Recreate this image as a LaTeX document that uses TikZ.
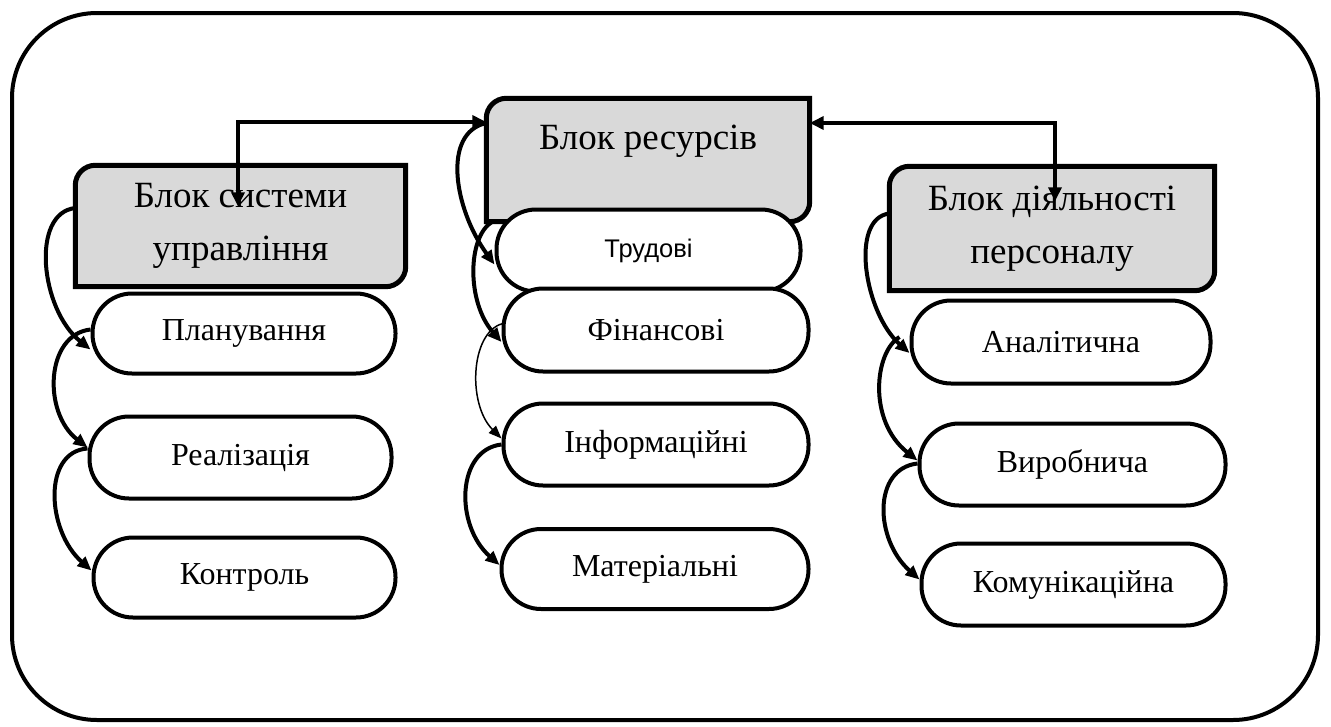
\documentclass[tikz,border=0pt]{standalone}
\usepackage{fontspec}
\setmainfont{Liberation Serif}
\newfontfamily\arialfont{Liberation Sans}
\usetikzlibrary{calc,arrows.meta,backgrounds}
\begin{document}
\begin{tikzpicture}[x=1pt,y=-1pt,
  frame/.style={draw, line width=4pt, rounded corners=85pt, minimum width=1306pt, minimum height=707pt, inner sep=0pt},
  blockbox/.style={inner sep=0pt, align=center, font=\fontsize{37}{53}\selectfont},
  blockline/.style={draw=black, fill=gray!30, line width=5pt},
  blocktext/.style={align=center, font=\fontsize{37}{53}\selectfont},
  pill/.style={draw, rectangle, rounded corners=39.5pt, line width=4pt, fill=white, inner sep=0pt, font=\fontsize{32}{38}\selectfont},
  link/.style={line width=4pt, {Triangle[length=14pt,width=13pt]}-{Triangle[length=14pt,width=13pt]}},
  curve/.style={line width=4pt, -{Triangle[length=14pt,width=12pt]}},
  thincurve/.style={line width=1.5pt, -{Triangle[length=13pt,width=10pt]}}
]
\useasboundingbox (0,0) rectangle (1331,726);

\node[frame] (frame) at (665,366.5) {};

% grey blocks
\node[blockbox, minimum width=330pt, minimum height=121pt] (sys) at (240.5,226) {Блок системи\\управління};
\node[blockbox, minimum width=323pt, minimum height=123pt] (res) at (648,160) {};
\node[blocktext] (restitle) at ($(res.north)+(0,43)$) {Блок ресурсів};
\node[blockbox, minimum width=325pt, minimum height=124pt] (act) at (1052,228.5) {Блок діяльності\\персоналу};

\begin{scope}[on background layer]
\foreach \b in {sys,res,act}{
  \draw[blockline] (\b.north east) -- ($(\b.south east)+(0,-20)$) arc[start angle=0,end angle=90,radius=20]
    -- (\b.south west) -- ($(\b.north west)+(0,20)$) arc[start angle=180,end angle=270,radius=20] -- cycle;
}
\end{scope}

% pills
\node[pill, minimum width=303pt, minimum height=80pt] (plan) at (244,333.5) {Планування};
\node[pill, minimum width=302pt, minimum height=82pt] (real) at (240.5,457.5) {Реалізація};
\node[pill, minimum width=302pt, minimum height=80pt] (kontr) at (244.5,577.5) {Контроль};
\node[pill, minimum width=304pt, minimum height=82pt, font=\arialfont\fontsize{25.5}{30}\selectfont] (trud) at (648.5,250.5) {Трудові};
\node[pill, minimum width=305pt, minimum height=83pt] (fin) at (656,330) {Фінансові};
\node[pill, minimum width=305pt, minimum height=82pt] (inf) at (656,444.5) {Інформаційні};
\node[pill, minimum width=307pt, minimum height=80pt] (mat) at (655,569) {Матеріальні};
\node[pill, minimum width=299pt, minimum height=83pt] (anal) at (1061,342) {Аналітична};
\node[pill, minimum width=306pt, minimum height=82pt] (vyr) at (1072.5,464.5) {Виробнича};
\node[pill, minimum width=304pt, minimum height=82pt] (kom) at (1073.5,584.5) {Комунікаційна};

% curved connectors
\draw[curve] ($(sys.west)+(0,-18)$) .. controls +(-45,5) and +(-50,-40) .. ($(plan.west)+(0,16)$);
\draw[curve] ($(plan.west)+(0,-4)$) .. controls +(-45,5) and +(-45,-35) .. ($(real.west)+(0,-10)$);
\draw[curve] ($(real.west)+(0,-9)$) .. controls +(-45,3) and +(-45,-40) .. ($(kontr.west)+(0,-7)$);
\draw[curve] ($(res.west)+(0,-37)$) .. controls +(-45,10) and +(-40,-55) .. ($(trud.west)+(0,14)$);
\draw[curve] ($(res.south west)+(6,0)$) .. controls +(-25,15) and +(-35,-40) .. ($(fin.west)+(0,12)$);
\draw[thincurve] ($(fin.west)+(4,-7)$) .. controls +(-35,5) and +(-35,-35) .. ($(inf.west)+(0,-6)$);
\draw[curve] (inf.west) .. controls +(-45,5) and +(-45,-40) .. ($(mat.west)+(0,-4)$);
\draw[curve] ($(act.west)+(0,-15)$) .. controls +(-40,5) and +(-45,-40) .. ($(anal.west)+(0,11)$);
\draw[curve] ($(anal.west)+(-10,-5)$) .. controls +(-25,15) and +(-50,-40) .. ($(vyr.west)+(0,-4)$);
\draw[curve] ($(vyr.west)+(0,-1)$) .. controls +(-45,5) and +(-45,-40) .. ($(kom.west)+(0,-5)$);

% straight links between blocks
\draw[link] ($(sys.north)+(-2.5,41)$) |- ($(res.west)+(0,-38)$);
\draw[link] ($(res.east)+(0,-37)$) -| ($(act.north)+(3,35)$);
\end{tikzpicture}
\end{document}
